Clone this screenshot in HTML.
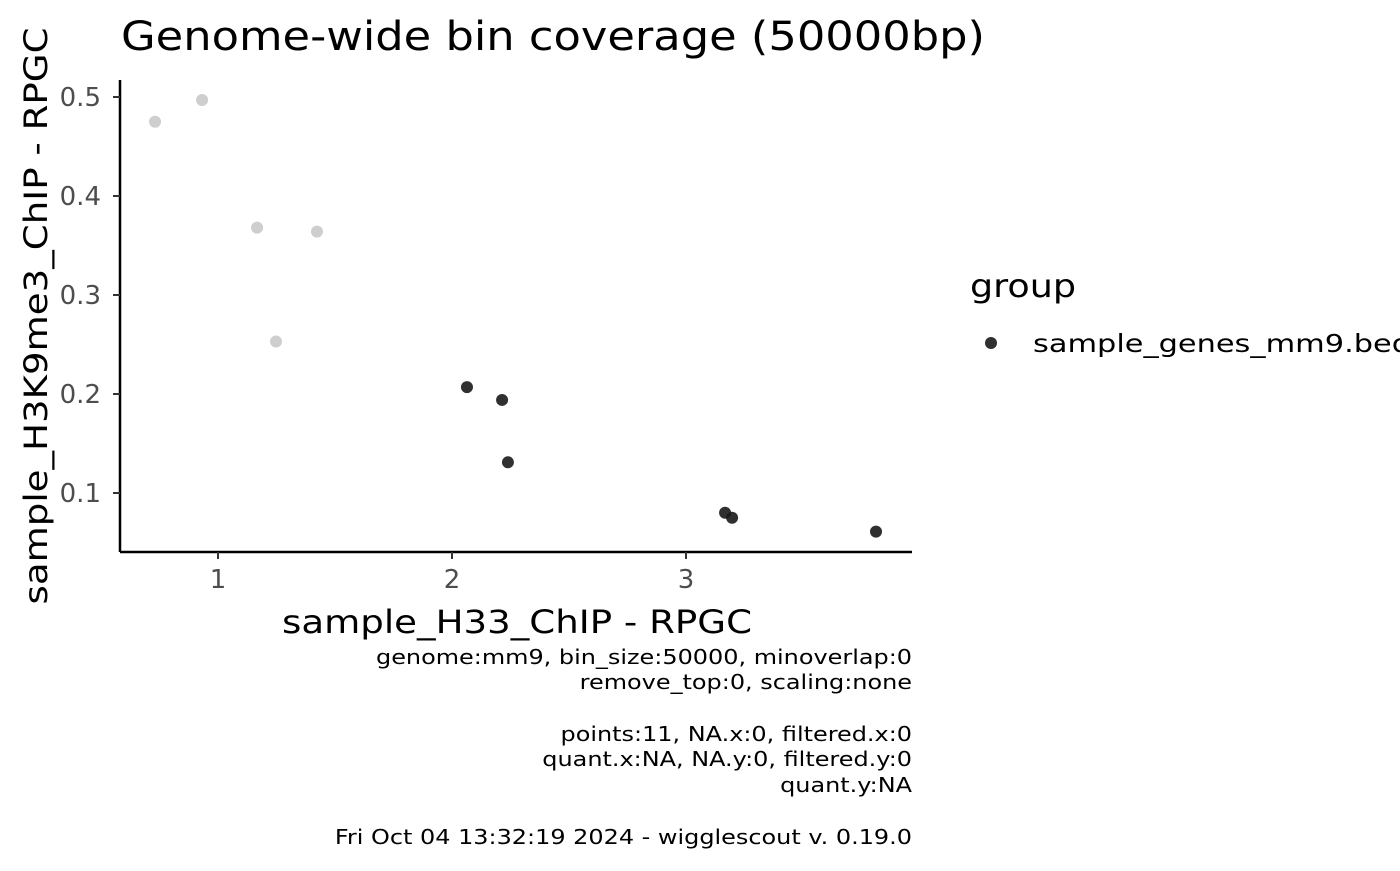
<!DOCTYPE html>
<html><head><meta charset="utf-8"><style>
body{margin:0;background:#fff;width:1400px;height:866px;overflow:hidden;font-family:"Liberation Sans","DejaVu Sans",sans-serif}
</style></head><body>
<svg id="chart" width="1400" height="866" font-family="DejaVu Sans, Liberation Sans, sans-serif">
<text x="121" y="50" font-size="40" fill="#000" textLength="864" lengthAdjust="spacingAndGlyphs">Genome-wide bin coverage (50000bp)</text>
<g id="axes"></g>
<g id="points"></g>
<text x="517" y="633" font-size="32" text-anchor="middle" fill="#000" textLength="470" lengthAdjust="spacingAndGlyphs">sample_H33_ChIP - RPGC</text>
<text transform="translate(47,316) rotate(-90)" font-size="32" text-anchor="middle" fill="#000" textLength="577" lengthAdjust="spacingAndGlyphs">sample_H3K9me3_ChIP - RPGC</text>
<text x="970" y="297" font-size="32" fill="#000" textLength="106" lengthAdjust="spacingAndGlyphs">group</text>
<circle cx="991" cy="343" r="6" fill="#1a1a1a" fill-opacity="0.9"/>
<text x="1033" y="352" font-size="25" fill="#000" textLength="378" lengthAdjust="spacingAndGlyphs">sample_genes_mm9.bed</text>
<g font-size="20" text-anchor="end" fill="#000">
<text class="cap" x="912" y="664">genome:mm9, bin_size:50000, minoverlap:0</text>
<text class="cap" x="912" y="689">remove_top:0, scaling:none</text>
<text class="cap" x="912" y="741">points:11, NA.x:0, filtered.x:0</text>
<text class="cap" x="912" y="766">quant.x:NA, NA.y:0, filtered.y:0</text>
<text class="cap" x="912" y="792">quant.y:NA</text>
<text class="cap" x="912" y="844">Fri Oct 04 13:32:19 2024 - wigglescout v. 0.19.0</text>
</g>
</svg>
<script>
const xValues=[0.731,0.932,1.167,1.423,1.248,2.064,2.214,2.239,3.167,3.197,3.812];
const yValues=[0.475,0.497,0.368,0.364,0.253,0.207,0.194,0.131,0.080,0.075,0.061];
const highlighted=[false,false,false,false,false,true,true,true,true,true,true];
const xTicks=[1,2,3];
const yTicks=[0.1,0.2,0.3,0.4,0.5];
const NS="http://www.w3.org/2000/svg";
function sx(v){return 218+(v-1)*234;}
function sy(v){return 97+(0.5-v)*990;}
const axes=document.getElementById('axes');
function mk(tag,attrs,parent){const e=document.createElementNS(NS,tag);for(const k in attrs)e.setAttribute(k,attrs[k]);parent.appendChild(e);return e;}
const xl=mk('line',{x1:120,y1:552,x2:912,y2:552,stroke:'#000','stroke-width':2.5},axes);


const yl=mk('line',{x1:120,y1:80,x2:120,y2:552,stroke:'#000','stroke-width':2.5},axes);


xTicks.forEach(t=>{
 const l=mk('line',{x1:sx(t),y1:552,x2:sx(t),y2:559,stroke:'#333','stroke-width':2},axes);
 
 
 const tx=mk('text',{x:sx(t),y:588,'font-size':26,'text-anchor':'middle',fill:'#4d4d4d'},axes);
 tx.textContent=t;
 
 
});
yTicks.forEach(t=>{
 const l=mk('line',{x1:113,y1:sy(t),x2:120,y2:sy(t),stroke:'#333','stroke-width':2},axes);
 
 
 const tx=mk('text',{x:101,y:sy(t)+9,'font-size':26,'text-anchor':'end',fill:'#4d4d4d'},axes);
 tx.textContent=t.toFixed(1);
 
 
});
const pts=document.getElementById('points');
xValues.forEach((x,i)=>{
 const c=mk('circle',{cx:sx(x),cy:sy(yValues[i]),r:6,fill:highlighted[i]?'#1a1a1a':'#bdbdbd','fill-opacity':highlighted[i]?0.9:0.75},pts);
 
 
});
document.querySelectorAll('.cap').forEach(t=>{
 const w=t.getComputedTextLength();
 t.setAttribute('textLength',(w*1.26/1.053).toFixed(1));
 t.setAttribute('lengthAdjust','spacingAndGlyphs');
});
</script>
</body></html>
